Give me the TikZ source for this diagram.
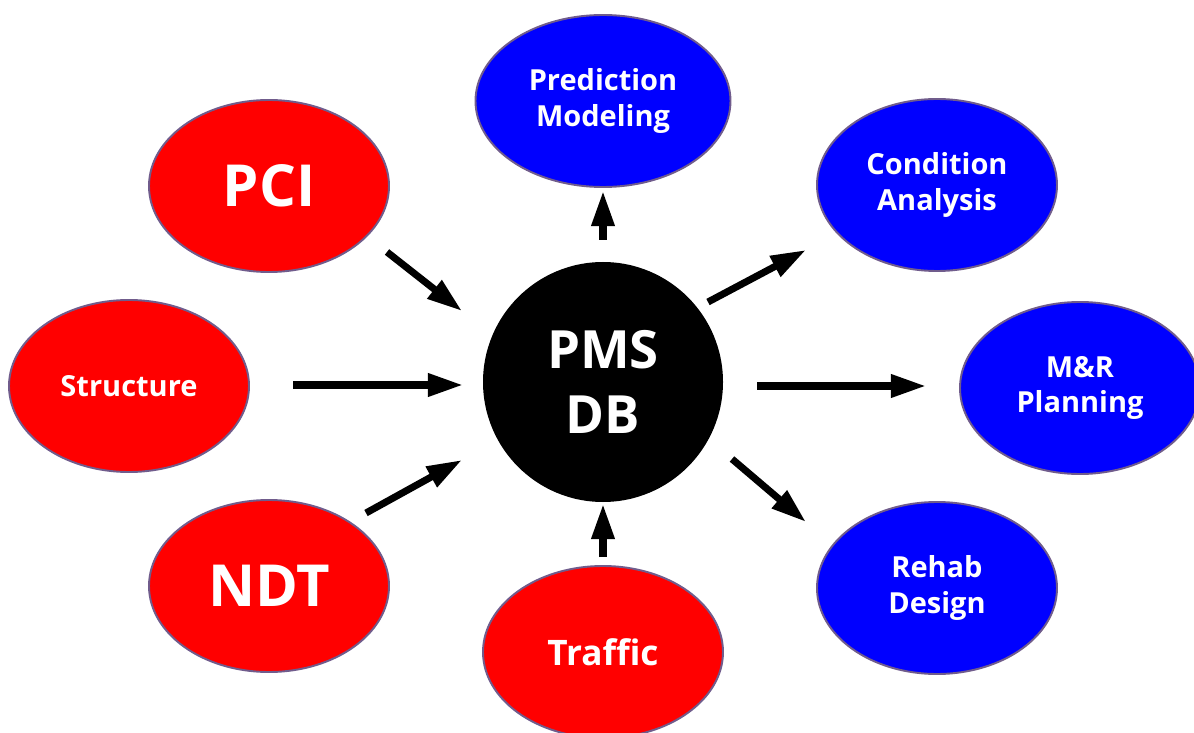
\documentclass[tikz,border=0pt]{standalone}
\usepackage{fontspec}
\setmainfont{Open Sans}
\usetikzlibrary{arrows.meta,shapes.geometric}
\definecolor{rimc}{RGB}{112,92,140}
\definecolor{redf}{RGB}{255,0,0}
\definecolor{bluef}{RGB}{0,0,255}
\tikzset{
  oval/.style={ellipse, draw=rimc, line width=1.1pt, minimum width=240*0.02cm, minimum height=172*0.02cm, inner sep=0pt, text=white, font=\bfseries, align=center},
  inoval/.style={oval, fill=redf},
  outoval/.style={oval, fill=bluef},
  small/.style={font=\fontsize{16.5}{20}\selectfont\bfseries},
  mid/.style={font=\fontsize{20}{24}\selectfont\bfseries},
  big/.style={font=\fontsize{33}{36}\selectfont\bfseries},
  flow/.style={line width=4pt, -{Triangle[length=20pt,width=12.5pt]}}
}
\begin{document}
\begin{tikzpicture}[x=0.02cm,y=-0.02cm]
\useasboundingbox (0,0) rectangle (1194,733);
\node[circle, fill=black, minimum size=240*0.02cm, inner sep=0pt, text=white, align=center, font=\fontsize{30}{37}\selectfont\bfseries] (pms) at (603,382) {PMS\\DB};
\node[inoval, big] (pci) at (269,186) {PCI};
\node[inoval, small] (str) at (129,386) {Structure};
\node[inoval, big] (ndt) at (269,586) {NDT};
\node[inoval, mid] (tra) at (603,652) {Traffic};
\node[outoval, small, minimum width=255*0.02cm] (pre) at (603,101) {Prediction\\Modeling};
\node[outoval, small] (con) at (937,185) {Condition\\Analysis};
\node[outoval, small] (mr) at (1080,388) {M\&R\\Planning};
\node[outoval, small] (reh) at (937,588) {Rehab\\Design};
% arrow end points
\coordinate (a1s) at (387,252); \coordinate (a1e) at (462,311);
\coordinate (a2s) at (293,385); \coordinate (a2e) at (463,385);
\coordinate (a3s) at (366,513); \coordinate (a3e) at (462,460);
\coordinate (a4s) at (603,557); \coordinate (a4e) at (603,504);
\coordinate (b1s) at (603,240); \coordinate (b1e) at (603,191);
\coordinate (b2s) at (708,302); \coordinate (b2e) at (806,250);
\coordinate (b3s) at (757,386); \coordinate (b3e) at (926,386);
\coordinate (b4s) at (732,459); \coordinate (b4e) at (806,522);
\draw[flow] (a1s) -- (a1e);
\draw[flow] (a2s) -- (a2e);
\draw[flow] (a3s) -- (a3e);
\draw[flow] (a4s) -- (a4e);
\draw[flow] (b1s) -- (b1e);
\draw[flow] (b2s) -- (b2e);
\draw[flow] (b3s) -- (b3e);
\draw[flow] (b4s) -- (b4e);
\end{tikzpicture}
\end{document}
